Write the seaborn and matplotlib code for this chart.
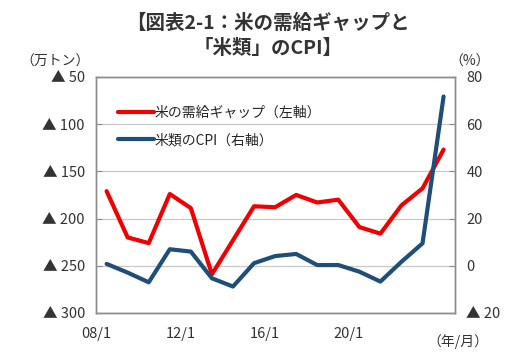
import matplotlib
matplotlib.use("Agg")
import matplotlib.pyplot as plt
import seaborn as sns
import pandas as pd

# annual data, plotted at mid-year
years = list(range(2008, 2025))
gap = [-171, -220, -226, -174, -189, -259, -223, -187, -188, -175, -183, -180,
       -209, -216, -186, -168, -127]          # 万トン (left axis)
cpi = [0.8, -2.9, -7.0, 7.0, 6.0, -5.3, -8.8, 1.1, 4.1, 5.0, 0.3, 0.3,
       -2.5, -6.7, 1.7, 9.5, 71.7]            # % (right axis)
xtick_years = [2008, 2012, 2016, 2020, 2024]
xtick_labels = ["08/1", "12/1", "16/1", "20/1", ""]
left_ticks = [-50, -100, -150, -200, -250, -300]
right_ticks = [80, 60, 40, 20, 0, -20]

df = pd.DataFrame({"x": [y + 0.5 for y in years], "gap": gap, "cpi": cpi})

sns.set_style("white")
plt.rcParams["font.family"] = ["Noto Sans CJK JP", "DejaVu Sans"]

red = "#F00000"
blue = "#1F4E79"
grey = "#8C8C8C"

fig = plt.figure(figsize=(5.25, 3.61), dpi=100)
ax = fig.add_axes([0.183, 0.133, 0.684, 0.654])
ax2 = ax.twinx()

sns.lineplot(data=df, x="x", y="gap", ax=ax, color=red, linewidth=3, zorder=3)
sns.lineplot(data=df, x="x", y="cpi", ax=ax2, color=blue, linewidth=3, zorder=3)

ax.set_xlim(2008, 2025.05)
ax.set_ylim(-300, -50)
ax2.set_ylim(-20, 80)

ax.set_xticks(xtick_years)
ax.set_xticklabels(xtick_labels)
ax.set_yticks(left_ticks)
ax.set_yticklabels(["▲ " + str(-v) for v in left_ticks])
ax2.set_yticks(right_ticks)
ax2.set_yticklabels([str(v) if v >= 0 else "▲ " + str(-v) for v in right_ticks])

for a in (ax, ax2):
    a.set_xlabel("")
    a.set_ylabel("")
    for s in a.spines.values():
        s.set_color(grey)
        s.set_linewidth(1.0)
    a.tick_params(direction="in", length=4, color=grey, labelsize=10.5,
                  labelcolor="#333333")
ax.tick_params(axis="x", pad=10)
ax.tick_params(axis="y", pad=8)
ax2.tick_params(axis="y", pad=8)

ax.yaxis.grid(True, color="#C8C8C8", linewidth=0.9)
ax.set_axisbelow(True)

handles = [plt.Line2D([], [], color=red, linewidth=3),
           plt.Line2D([], [], color=blue, linewidth=3)]
ax2.legend(handles, ["米の需給ギャップ（左軸）", "米類のCPI（右軸）"],
           loc="upper left", bbox_to_anchor=(0.025, 0.93), frameon=False,
           fontsize=10, handlelength=2.6, handletextpad=0.1, labelspacing=0.95)

fig.text(0.51, 0.935, "【図表2-1：米の需給ギャップと", ha="center", va="center",
         fontsize=14, fontweight="bold", color="#333333")
fig.text(0.51, 0.865, "「米類」のCPI】", ha="center", va="center",
         fontsize=14, fontweight="bold", color="#333333")
fig.text(0.105, 0.83, "（万トン）", ha="center", va="center", fontsize=10,
         color="#333333")
fig.text(0.895, 0.83, "（%）", ha="center", va="center", fontsize=10,
         color="#333333")
fig.text(0.873, 0.055, "（年/月）", ha="center", va="center", fontsize=10,
         color="#333333")

fig.savefig("out.png", dpi=100)
